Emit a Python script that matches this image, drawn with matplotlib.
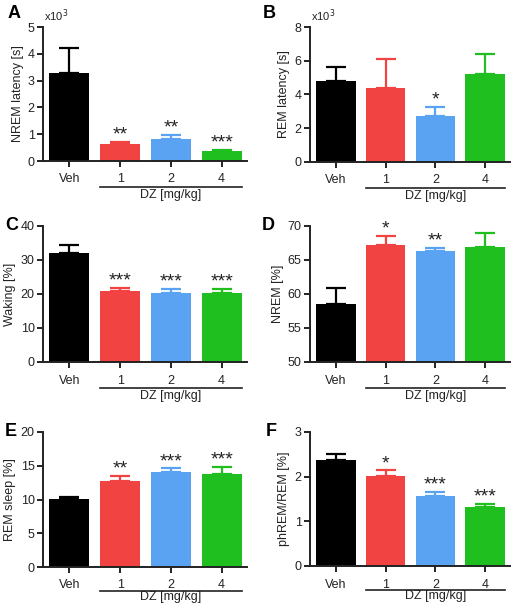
import numpy as np
import matplotlib
matplotlib.use('Agg')
import matplotlib.pyplot as plt
from matplotlib.transforms import blended_transform_factory

plt.rcParams['font.family'] = ['Liberation Sans', 'DejaVu Sans']

groups = ['Veh', '1', '2', '4']
colors = ['#000000', '#f24343', '#5aa2f2', '#1fbf1f']

nrem_lat = [3.3, 0.65, 0.82, 0.37]
nrem_lat_err = [0.9, 0.07, 0.15, 0.05]
nrem_lat_sig = ['', '**', '**', '***']

rem_lat = [4.8, 4.4, 2.75, 5.2]
rem_lat_err = [0.85, 1.7, 0.5, 1.2]
rem_lat_sig = ['', '', '*', '']

waking = [32.0, 20.8, 20.4, 20.3]
waking_err = [2.3, 1.0, 1.0, 1.1]
waking_sig = ['', '***', '***', '***']

nrem = [58.6, 67.2, 66.3, 66.9]
nrem_err = [2.3, 1.4, 0.5, 2.1]
nrem_sig = ['', '*', '**', '']

rem_sleep = [10.1, 12.8, 14.1, 13.8]
rem_sleep_err = [0.2, 0.7, 0.5, 1.0]
rem_sleep_sig = ['', '**', '***', '***']

phrem = [2.38, 2.02, 1.57, 1.31]
phrem_err = [0.12, 0.12, 0.08, 0.07]
phrem_sig = ['', '*', '***', '***']

panels = [
    ('A', nrem_lat, nrem_lat_err, nrem_lat_sig, 'NREM latency [s]', (0, 5), [0, 1, 2, 3, 4, 5], True),
    ('B', rem_lat, rem_lat_err, rem_lat_sig, 'REM latency [s]', (0, 8), [0, 2, 4, 6, 8], True),
    ('C', waking, waking_err, waking_sig, 'Waking [%]', (0, 40), [0, 10, 20, 30, 40], False),
    ('D', nrem, nrem_err, nrem_sig, 'NREM [%]', (50, 70), [50, 55, 60, 65, 70], False),
    ('E', rem_sleep, rem_sleep_err, rem_sleep_sig, 'REM sleep [%]', (0, 20), [0, 5, 10, 15, 20], False),
    ('F', phrem, phrem_err, phrem_sig, 'phREM/REM [%]', (0, 3), [0, 1, 2, 3], False),
]

# axes boxes in pixels: left, top, right, bottom
boxes = [
    (43, 27, 247, 161), (310, 27, 510, 162),
    (43, 226, 247, 362), (310, 226, 510, 362),
    (43, 432, 247, 567), (310, 432, 510, 566),
]
letter_pos = [(8, 14), (263, 14), (5, 226), (262, 226), (5, 432), (266, 432)]

W, H = 518, 604
fig = plt.figure(figsize=(W / 100, H / 100), dpi=100)

x = np.arange(len(groups))
for i, ((letter, vals, errs, sig, ylabel, ylim, yticks, x1000), box, lp) in enumerate(zip(panels, boxes, letter_pos)):
    l, t, r, b = box
    ax = fig.add_axes([l / W, 1 - b / H, (r - l) / W, (b - t) / H])
    ax.bar(x, vals, width=0.79, color=colors, zorder=2)
    for xi, v, e, c, s in zip(x, vals, errs, colors, sig):
        ax.errorbar(xi, v, yerr=[[0], [e]], color=c, capsize=7.5, elinewidth=1.6,
                    capthick=1.6, zorder=1)
        if s:
            ax.text(xi, v + e - (ylim[1] - ylim[0]) * 0.012, s, ha='center', va='bottom',
                    fontsize=14, color='#222222')
    ax.set_xlim(-0.52, 3.5)
    ax.set_ylim(*ylim)
    ax.set_yticks(yticks)
    ax.set_xticks(x)
    ax.set_xticklabels(groups)
    for sp in ['top', 'right']:
        ax.spines[sp].set_visible(False)
    for sp in ['left', 'bottom']:
        ax.spines[sp].set_linewidth(1.4)
        ax.spines[sp].set_color('#222222')
    ax.tick_params(axis='both', labelsize=9, width=1.4, length=4, colors='#222222')
    ax.tick_params(axis='x', pad=5)
    ax.tick_params(axis='y', pad=2)
    ax.set_ylabel(ylabel, fontsize=9, color='#222222', labelpad=3)
    trans = blended_transform_factory(ax.transData, ax.transAxes)
    h = b - t
    # bottom row sits close to the figure edge
    line_off, text_off = (24, 30) if i >= 4 else (26, 34)
    ax.plot([0.6, 3.4], [-line_off / h, -line_off / h], color='#222222', lw=1.2,
            transform=trans, clip_on=False)
    ax.text(2.0, -text_off / h, 'DZ [mg/kg]', transform=trans, ha='center', va='center',
            fontsize=9, color='#222222')
    if x1000:
        ax.text(-0.5, 1.02, r'x10$^3$', transform=trans, ha='left', va='bottom',
                fontsize=8, color='#222222')
    fig.text(lp[0] / W, 1 - lp[1] / H, letter, fontsize=13, fontweight='bold',
             ha='left', va='center')

fig.savefig('out.png', dpi=100)
